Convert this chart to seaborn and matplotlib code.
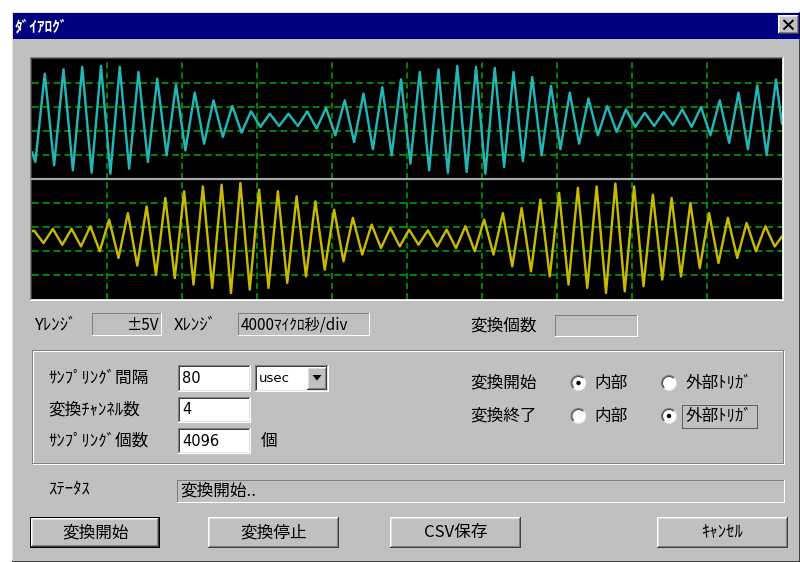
import numpy as np
import pandas as pd
import matplotlib
matplotlib.use("Agg")
import matplotlib.pyplot as plt
from matplotlib.patches import Rectangle, Circle, Arc
import seaborn as sns

# ---- waveform readings (divisions, 0 = channel centre) ----
# channel 1: successive minima and maxima, one of each per 1 ms cycle
ch1_troughs = [-1.79, -1.93, -2.14, -2.24, -2.28, -2.07, -1.79, -1.51, -1.31, -1.03,
               -0.75, -0.57, -0.33, -0.29, -0.29, -0.40, -0.68, -0.96, -1.26, -1.51,
               -1.86, -2.14, -2.24, -2.21, -2.28, -2.00, -1.76, -1.51, -1.26, -1.03,
               -0.68, -0.54, -0.33, -0.29, -0.26, -0.33, -0.68, -0.99, -1.26, -1.51]
ch1_peaks = [1.89, 2.07, 2.17, 2.21, 2.17, 1.96, 1.68, 1.43, 1.10, 0.78,
             0.54, 0.32, 0.22, 0.22, 0.32, 0.46, 0.78, 1.06, 1.33, 1.65,
             1.96, 2.07, 2.21, 2.17, 2.13, 1.96, 1.75, 1.38, 1.10, 0.85,
             0.54, 0.40, 0.26, 0.29, 0.40, 0.50, 0.78, 1.10, 1.40, 1.65]
ch1_ends = [-1.38, -0.20]

# channel 2
ch2_peaks = [0.35, 0.42, 0.42, 0.53, 0.81, 1.08, 1.36, 1.71, 1.99, 2.19,
             2.26, 2.33, 2.06, 1.99, 1.78, 1.57, 1.22, 0.88, 0.60, 0.46,
             0.39, 0.36, 0.39, 0.53, 0.81, 1.08, 1.29, 1.64, 1.92, 2.13,
             2.19, 2.31, 2.19, 1.85, 1.71, 1.50, 1.08, 0.88, 0.67, 0.53]
ch2_troughs = [-0.17, -0.24, -0.31, -0.51, -0.79, -1.11, -1.49, -1.63, -1.90, -2.04,
               -2.25, -2.11, -2.04, -1.83, -1.56, -1.28, -0.93, -0.65, -0.38, -0.31,
               -0.24, -0.31, -0.38, -0.51, -0.65, -1.14, -1.35, -1.56, -1.90, -2.04,
               -2.25, -2.18, -1.97, -1.69, -1.56, -1.21, -1.00, -0.79, -0.51, -0.31]
ch2_ends = [0.32, 0.11]

# timing (microseconds)
SPAN_US = 40000          # 10 div x 4000 us/div
DIV_US = 4000
CYCLE_US = 1000
ch1_first_us = 180       # first minimum of channel 1
ch2_first_us = 113       # first maximum of channel 2

# panel text
title_text = "ﾀﾞｲｱﾛｸﾞ"
yrange_text = "±5V"
xrange_text = "4000ﾏｲｸﾛ秒/div"
sampling_interval = "80"
interval_unit = "usec"
channel_count = "4"
sample_count = "4096"
status_text = "変換開始.."
buttons = ["変換開始", "変換停止", "CSV保存", "ｷｬﾝｾﾙ"]


def trace_frame(first_vals, second_vals, first_us, ends):
    n = len(first_vals)
    t1 = first_us + CYCLE_US * np.arange(n)
    t2 = t1 + CYCLE_US / 2
    t = np.concatenate([[0], np.column_stack([t1, t2]).ravel(), [SPAN_US]])
    v = np.concatenate([[ends[0]], np.column_stack([first_vals, second_vals]).ravel(), [ends[1]]])
    return pd.DataFrame({"t": t, "v": v})


df1 = trace_frame(ch1_troughs, ch1_peaks, ch1_first_us, ch1_ends)
df2 = trace_frame(ch2_peaks, ch2_troughs, ch2_first_us, ch2_ends)

sns.set_theme(style="white")
plt.rcParams['font.family'] = ['Noto Sans CJK JP', 'DejaVu Sans']

W, H = 800, 562
FACE = "#c0c0c0"
DARK = "#808080"
DARKER = "#404040"
LIGHT = "#ffffff"
LIGHT2 = "#dfdfdf"


def pt(n):
    return n * 72 / 100


fig = plt.figure(figsize=(W / 100, H / 100), dpi=100)
fig.patch.set_facecolor("white")
ui = fig.add_axes([0, 0, 1, 1], zorder=0)
ui.set_xlim(0, W)
ui.set_ylim(H, 0)
ui.axis("off")


def rect(x, y, w, h, c):
    ui.add_patch(Rectangle((x, y), w, h, facecolor=c, edgecolor="none", lw=0))


def edges(x, y, w, h, tl, br):
    rect(x, y, w, 1, tl)
    rect(x, y, 1, h, tl)
    rect(x, y + h - 1, w, 1, br)
    rect(x + w - 1, y, 1, h, br)


def sunken(x, y, w, h, fill=LIGHT, thick=True):
    rect(x, y, w, h, fill)
    edges(x, y, w, h, DARK, LIGHT)
    if thick:
        edges(x + 1, y + 1, w - 2, h - 2, DARKER, LIGHT2)


def raised(x, y, w, h, fill=FACE):
    rect(x, y, w, h, fill)
    edges(x, y, w, h, LIGHT, DARKER)
    edges(x + 1, y + 1, w - 2, h - 2, LIGHT2, DARK)


def label(x, y, s, size=12, ha="left", color="#000000", **kw):
    ui.text(x, y, s, fontsize=size, ha=ha, va="center", color=color, **kw)


def radio(cx, cy, checked):
    ui.add_patch(Circle((cx, cy), 7.5, facecolor=LIGHT, edgecolor="none"))
    ui.add_patch(Arc((cx, cy), 15, 15, theta1=135, theta2=315, color=DARK, lw=pt(1.2)))
    ui.add_patch(Arc((cx, cy), 13, 13, theta1=135, theta2=315, color=DARKER, lw=pt(1.0)))
    ui.add_patch(Arc((cx, cy), 15, 15, theta1=-45, theta2=135, color=LIGHT2, lw=pt(1.0)))
    if checked:
        ui.add_patch(Circle((cx, cy), 2.2, facecolor="black", edgecolor="none"))


# window body and caption
rect(12, 12, W - 12, H - 12, FACE)
edges(12, 12, W - 12, H - 12, LIGHT2, DARKER)
rect(13, 13, W - 13, 26, "#000080")
label(15, 26, title_text, size=11, color="white", fontweight="bold")
raised(778, 15, 21, 19)
ui.plot([783.5, 793.5], [20, 29.5], color="black", lw=pt(2), solid_capstyle="butt")
ui.plot([783.5, 793.5], [29.5, 20], color="black", lw=pt(2), solid_capstyle="butt")

# scope frame
edges(30, 57, 754, 244, DARK, LIGHT)
edges(31, 58, 752, 242, DARKER, LIGHT2)

# range readouts
label(34, 325, "Yﾚﾝｼﾞ")
sunken(92, 313, 70, 23, fill=FACE, thick=False)
label(159, 325, yrange_text, ha="right", size=11)
label(174, 325, "Xﾚﾝｼﾞ")
sunken(238, 313, 132, 23, fill=FACE, thick=False)
label(241, 325, xrange_text, size=11)
label(470, 326, "変換個数")
sunken(555, 315, 83, 22, fill=FACE, thick=False)

# settings group (etched frame)
edges(33, 351, 752, 114, LIGHT, LIGHT)
edges(32, 350, 752, 114, DARK, DARK)

label(48, 378, "ｻﾝﾌﾟﾘﾝｸﾞ間隔")
label(48, 410, "変換ﾁｬﾝﾈﾙ数")
label(48, 441, "ｻﾝﾌﾟﾘﾝｸﾞ個数")
sunken(178, 365, 73, 27)
label(182, 378.5, sampling_interval, size=10.5, family="DejaVu Sans")
sunken(255, 365, 74, 27)
label(259, 378.5, interval_unit, size=9.5, family="DejaVu Sans")
raised(307, 367, 20, 23)
ui.add_patch(plt.Polygon([[312.5, 375], [321.5, 375], [317, 380.5]], closed=True,
                         facecolor="black", edgecolor="none"))
sunken(178, 397, 73, 26)
label(182, 410, channel_count, size=10.5, family="DejaVu Sans")
sunken(178, 428, 73, 26)
label(182, 441, sample_count, size=10.5, family="DejaVu Sans")
label(261, 441, "個")

label(470, 383, "変換開始")
label(470, 416, "変換終了")
radio(578.5, 383, True)
label(594, 383, "内部")
radio(669, 383, False)
label(686, 383, "外部ﾄﾘｶﾞ")
radio(578.5, 416, False)
label(594, 416, "内部")
radio(669, 416, True)
label(686, 416, "外部ﾄﾘｶﾞ")
ui.add_patch(Rectangle((682, 405), 75, 23, facecolor="none", edgecolor="black",
                       lw=pt(1), ls=(0, (1, 1))))

# status line
label(48, 490, "ｽﾃｰﾀｽ")
sunken(177, 480, 608, 23, fill=FACE, thick=False)
label(180, 491, status_text)

# buttons
button_x = [30, 208, 390, 657]
for i, (bx, text) in enumerate(zip(button_x, buttons)):
    if i == 0:
        rect(bx, 517, 130, 31, "black")
        raised(bx + 1, 518, 128, 29)
    else:
        raised(bx, 517, 131, 31)
    label(bx + 65.5, 533, text, ha="center")

# ---- oscilloscope traces ----
GRID = "#00b000"
panels = [(df1, "#22b6b6", 179), (df2, "#c8ba00", 299)]
axes = []
for df, color, bottom_px in panels:
    ax = fig.add_axes([32 / W, 1 - bottom_px / H, 750 / W, 120 / H], zorder=2)
    ax.set_facecolor("black")
    for t in range(DIV_US, SPAN_US, DIV_US):
        ax.axvline(t, color=GRID, lw=pt(1.5), ls=(0, (4, 2.7)), zorder=1)
    for y in (-1.5, -0.5, 0.5, 1.5):
        ax.axhline(y, color=GRID, lw=pt(1.5), ls=(0, (4.5, 2.7)), zorder=1)
    sns.lineplot(data=df, x="t", y="v", ax=ax, color=color, lw=pt(2.4),
                 estimator=None, legend=False, zorder=3,
                 solid_joinstyle="round")
    ax.set_xlim(0, SPAN_US)
    ax.set_ylim(-2.5, 2.5)
    ax.set_xticks([])
    ax.set_yticks([])
    ax.set_xlabel("")
    ax.set_ylabel("")
    for s in ax.spines.values():
        s.set_visible(False)
    axes.append(ax)

# divider between the two channels
axes[1].spines["top"].set_visible(True)
axes[1].spines["top"].set_color("#a8a8a8")
axes[1].spines["top"].set_linewidth(pt(2.2))

fig.savefig("out.png", dpi=100)
